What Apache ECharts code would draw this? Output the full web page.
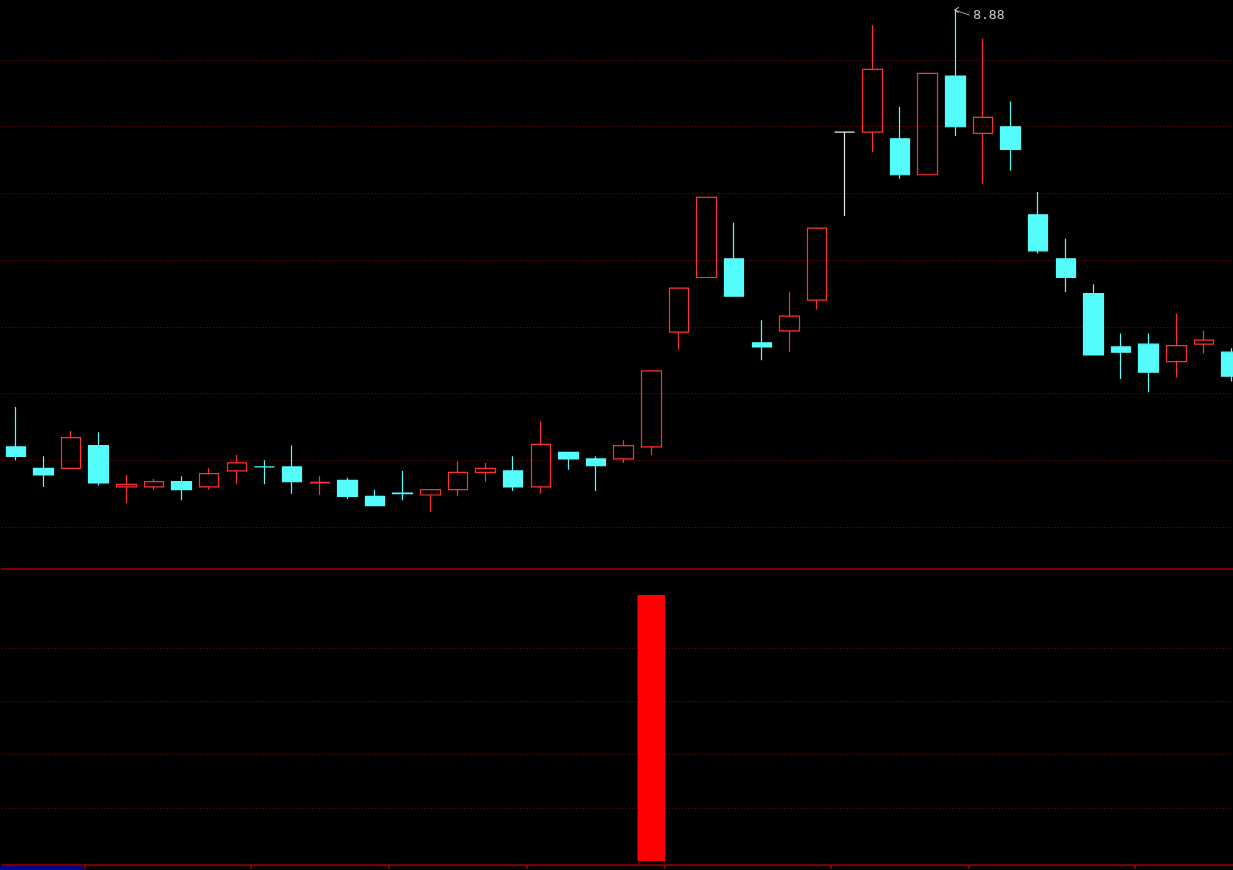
<!DOCTYPE html>
<html>
<head>
<meta charset="utf-8">
<script src="https://cdn.jsdelivr.net/npm/echarts@6/dist/echarts.min.js"></script>
<style>
html,body{margin:0;padding:0;background:#000;}
#chart{width:1233px;height:870px;}
</style>
</head>
<body>
<div id="chart"></div>
<script>
// ---- data (prices) ----
const categories = ['1','2','3','4','5','6','7','8','9','10','11','12','13','14','15','16','17','18','19','20','21','22','23','24','25','26','27','28','29','30','31','32','33','34','35','36','37','38','39','40','41','42','43','44','45'];
const openPrices  = [5.60,5.44,5.44,5.61,5.30,5.30,5.34,5.30,5.42,5.45, 5.45,5.33,5.35,5.23,5.255,5.24,5.28,5.41,5.42,5.30, 5.56,5.51,5.51,5.60,6.46,6.87,7.01,6.38,6.47,6.70, 7.96,7.96,7.91,7.64,8.38,7.95,8.00,7.34,7.01,6.75, 6.35,6.37,6.24,6.37,6.31];
const closePrices = [5.53,5.39,5.67,5.33,5.32,5.34,5.28,5.40,5.48,5.45, 5.34,5.335,5.23,5.16,5.25,5.28,5.41,5.44,5.30,5.62, 5.51,5.46,5.61,6.17,6.79,7.47,6.73,6.35,6.58,7.24, 7.96,8.43,7.64,8.40,8.00,8.07,7.83,7.07,6.87,6.29, 6.31,6.16,6.36,6.40,6.13];
const lowPrices   = [5.50,5.30,5.44,5.31,5.18,5.28,5.20,5.28,5.32,5.32, 5.25,5.24,5.21,5.16,5.20,5.11,5.23,5.34,5.27,5.25, 5.43,5.27,5.48,5.54,6.33,6.87,6.73,6.25,6.31,6.63, 7.33,7.81,7.61,7.64,7.93,7.57,7.67,7.05,6.76,6.29, 6.11,6.01,6.12,6.30,6.09];
const highPrices  = [5.90,5.53,5.72,5.71,5.39,5.36,5.38,5.44,5.54,5.50, 5.61,5.38,5.37,5.28,5.42,5.28,5.49,5.48,5.53,5.79, 5.56,5.53,5.65,6.17,6.79,7.47,7.28,6.55,6.76,7.24, 7.96,8.76,8.15,8.40,8.88,8.66,8.19,7.51,7.16,6.82, 6.45,6.45,6.60,6.47,6.34];
// horizontal price grid levels of the main panel
const priceLevels = [5.0, 5.5, 6.0, 6.5, 7.0, 7.5, 8.0, 8.5];
// lower indicator panel
const signalValues = [0,0,0,0,0,0,0,0,0,0, 0,0,0,0,0,0,0,0,0,0, 0,0,0,5,0,0,0,0,0,0, 0,0,0,0,0,0,0,0,0,0, 0,0,0,0,0];
const signalLevels = [1, 2, 3, 4];
// axis tick positions (category indices) on the bottom time axis
const timeTickIndices = [3,9,14,19,24,30,35,41];

const UP = '#ff3232', DOWN = '#54fcfc', FLAT = '#e6e6e6';
const GRIDLINE = '#8c0000', AXISRED = '#a00000';

const candleData = categories.map((c, i) => {
  const item = { value: [openPrices[i], closePrices[i], lowPrices[i], highPrices[i]] };
  if (openPrices[i] === closePrices[i] && highPrices[i] === openPrices[i]) {
    item.itemStyle = { color: FLAT, color0: FLAT, borderColor: FLAT, borderColor0: FLAT };
  }
  return item;
});

const dotted = { color: GRIDLINE, type: [1, 2.3], width: 1 };
const chart = echarts.init(document.getElementById('chart'), null, { renderer: 'canvas' });
const gridWidth = 1243.4;
chart.setOption({
  backgroundColor: '#000000',
  animation: false,
  grid: [
    { left: 2, top: 0, width: gridWidth, height: 569, outerBoundsMode: 'none', containLabel: false },
    { left: 2, top: 569, width: gridWidth, height: 296, outerBoundsMode: 'none', containLabel: false }
  ],
  xAxis: [
    { type: 'category', gridIndex: 0, data: categories, boundaryGap: true,
      axisLine: { show: true, onZero: false, lineStyle: { color: AXISRED, width: 1.5 } },
      axisTick: { show: false }, axisLabel: { show: false }, splitLine: { show: false } },
    { type: 'category', gridIndex: 1, data: categories, boundaryGap: true,
      axisLine: { show: true, onZero: false, lineStyle: { color: AXISRED, width: 1.5 } },
      axisTick: { show: true, length: 4, lineStyle: { color: AXISRED, width: 1.5 },
        interval: (idx) => timeTickIndices.indexOf(idx) >= 0 },
      axisLabel: { show: false }, splitLine: { show: false } }
  ],
  yAxis: [
    { type: 'value', gridIndex: 0, min: 4.6852, max: 8.9498,
      axisLine: { show: false }, axisTick: { show: false }, axisLabel: { show: false },
      splitLine: { show: false } },
    { type: 'value', gridIndex: 1, min: -0.0752, max: 5.489,
      axisLine: { show: false }, axisTick: { show: false }, axisLabel: { show: false },
      splitLine: { show: false } }
  ],
  series: [
    {
      type: 'candlestick',
      xAxisIndex: 0, yAxisIndex: 0,
      z: 3,
      data: candleData,
      barWidth: 20,
      itemStyle: { color: 'transparent', color0: DOWN, borderColor: UP, borderColor0: DOWN, borderWidth: 1.2 },
      markLine: {
        silent: true, symbol: ['none', 'none'], animation: false, z: 1,
        label: { show: false },
        lineStyle: dotted,
        data: priceLevels.map(v => ({ yAxis: v }))
      },
      markPoint: {
        symbol: 'path://M4,-3 L0,0 L4,3 M0,0 L15,6',
        symbolSize: [15, 8],
        symbolOffset: [7, 2],
        z: 5,
        itemStyle: { color: 'none', borderColor: '#c8c8c8', borderWidth: 1 },
        label: { show: true, position: 'right', distance: 0, color: '#c8c8c8',
          fontFamily: 'DejaVu Sans Mono', fontSize: 13, offset: [0, 4],
          formatter: (p) => Number(p.value).toFixed(2) },
        data: [{ type: 'max', valueDim: 'highest' }]
      }
    },
    {
      type: 'bar',
      xAxisIndex: 1, yAxisIndex: 1,
      z: 3,
      data: signalValues,
      barWidth: '100%',
      itemStyle: { color: '#ff0000' },
      markLine: {
        silent: true, symbol: ['none', 'none'], animation: false, z: 1,
        label: { show: false },
        lineStyle: dotted,
        data: signalLevels.map(v => ({ yAxis: v }))
      }
    }
  ],
  graphic: [
    { type: 'rect', left: 0, top: 866, shape: { width: 83, height: 4 }, style: { fill: '#000080' } }
  ]
});
</script>
</body>
</html>
